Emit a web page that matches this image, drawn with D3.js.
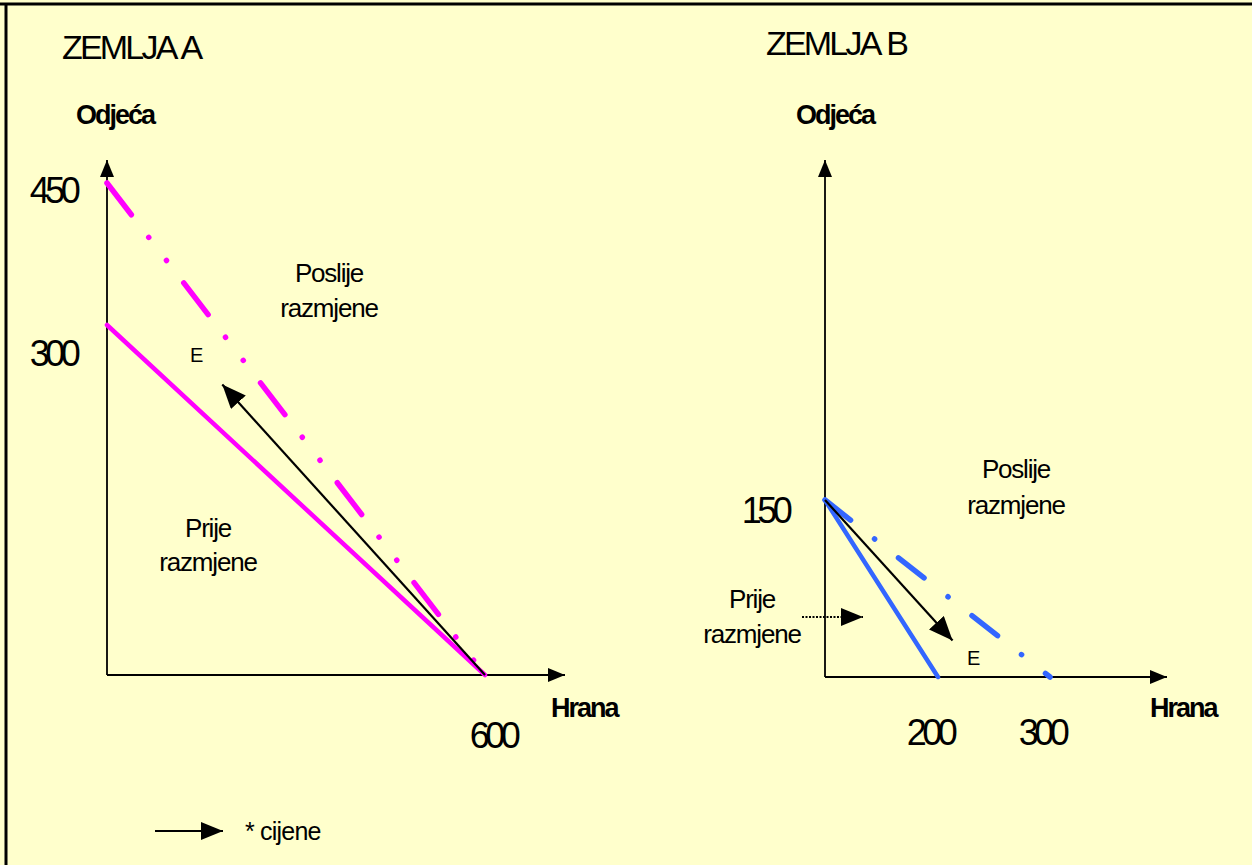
<!DOCTYPE html>
<html>
<head>
<meta charset="utf-8">
<script src="https://cdn.jsdelivr.net/npm/d3@7"></script>
<style>
 body { margin: 0; background: #fff; }
 svg { display: block; }
 text { font-family: "Liberation Sans", Arial, sans-serif; fill: #000; }
</style>
</head>
<body>
<svg id="chart"></svg>
<script>
// --- data ---
var titles = ["ZEMLJA A", "ZEMLJA B"];
var axisNames = ["Odjeća", "Hrana"];

// zemlja A
var aTicksX = [600], aTicksY = [300, 450];
var aBefore = [[0, 300], [600, 0]];
var aAfter = [[0, 450], [600, 0]];
var aPrice = [[600, 0], [183, 249]];

// zemlja B
var bTicksX = [200, 300], bTicksY = [150];
var bBefore = [[0, 150], [200, 0]];
var bAfter = [[0, 150], [300, 0]];
var bPrice = [[0, 150], [213, 31]];

var width = 1252,
 height = 865;

var svg = d3.select("#chart")
 .attr("width", width)
 .attr("height", height);

svg.append("rect")
 .attr("width", width)
 .attr("height", height)
 .attr("fill", "#ffffcc");

// frame (top + left only)
svg.append("line").attr("x1", 0).attr("x2", width).attr("y1", 4).attr("y2", 4)
 .attr("stroke", "#000").attr("stroke-width", 3);
svg.append("line").attr("x1", 6).attr("x2", 6).attr("y1", 3).attr("y2", height)
 .attr("stroke", "#000").attr("stroke-width", 3);

// arrow heads
var defs = svg.append("defs");
function head(id, len, w) {
 defs.append("marker")
  .attr("id", id)
  .attr("viewBox", "0 0 " + len + " " + w)
  .attr("refX", len)
  .attr("refY", w / 2)
  .attr("markerWidth", len)
  .attr("markerHeight", w)
  .attr("markerUnits", "userSpaceOnUse")
  .attr("orient", "auto")
  .append("path")
  .attr("d", "M0,0L" + len + "," + (w / 2) + "L0," + w + "Z")
  .attr("fill", "#000");
}
head("axisHead", 17, 14);
head("priceHead", 24, 20);
head("smallHead", 22, 18);

function txt(x, y, s, size, opt) {
 opt = opt || {};
 return svg.append("text")
  .attr("x", x)
  .attr("y", y)
  .attr("font-size", size)
  .attr("font-weight", opt.bold ? "bold" : null)
  .attr("letter-spacing", opt.ls || 0)
  .attr("word-spacing", opt.ws || 0)
  .attr("text-anchor", opt.anchor || "start")
  .text(s);
}

function arrow(x1, y1, x2, y2, marker, sw, dash) {
 return svg.append("line")
  .attr("x1", x1).attr("y1", y1)
  .attr("x2", x2).attr("y2", y2)
  .attr("stroke", "#000")
  .attr("stroke-width", sw)
  .attr("stroke-dasharray", dash || null)
  .attr("marker-end", "url(#" + marker + ")");
}

var line = d3.line();

// ===== ZEMLJA A =====
var xA = d3.scaleLinear().domain([0, 600]).range([107, 485]);
var yA = d3.scaleLinear().domain([0, 300, 450]).range([675, 325, 183]);
var yAlab = d3.scaleLinear().domain([300, 450]).range([366, 203]);

arrow(xA(0), yA(0), xA(0), 160, "axisHead", 1.8);
arrow(xA(0), yA(0), 565, yA(0), "axisHead", 1.8);

svg.append("path")
 .attr("d", line(aAfter.map(function(d) { return [xA(d[0]), yA(d[1])]; })))
 .attr("fill", "none")
 .attr("stroke", "#ff00ff")
 .attr("stroke-width", 5.5)
 .attr("stroke-linecap", "round")
 .attr("stroke-dasharray", "40,28.5,0.1,29,0.1,28.3");

svg.append("path")
 .attr("d", line(aBefore.map(function(d) { return [xA(d[0]), yA(d[1])]; })))
 .attr("fill", "none")
 .attr("stroke", "#ff00ff")
 .attr("stroke-width", 4.5)
 .attr("stroke-linecap", "round");

arrow(xA(aPrice[0][0]), yA(aPrice[0][1]), xA(aPrice[1][0]), yA(aPrice[1][1]), "priceHead", 2.2);

txt(62, 59, titles[0], 34, { ls: -2.8, ws: 2 });
txt(115, 124, axisNames[0], 27, { bold: true, ls: -2, anchor: "middle" });
txt(551, 717, axisNames[1], 27, { bold: true, ls: -2 });

aTicksY.forEach(function(v) {
 txt(53, yAlab(v), v, 36, { ls: -4.5, anchor: "middle" });
});
aTicksX.forEach(function(v) {
 txt(xA(v) + 8, 748, v, 36, { ls: -4.5, anchor: "middle" });
});

txt(329, 282, "Poslije", 26, { ls: -1.2, anchor: "middle" });
txt(329, 317, "razmjene", 26, { ls: -1.2, anchor: "middle" });
txt(208, 537, "Prije", 26, { ls: -1.2, anchor: "middle" });
txt(208, 571, "razmjene", 26, { ls: -1.2, anchor: "middle" });
txt(190, 362, "E", 20);

// ===== ZEMLJA B =====
var xB = d3.scaleLinear().domain([0, 200, 300]).range([825, 938, 1050]);
var yB = d3.scaleLinear().domain([0, 150]).range([677, 500]);

arrow(xB(0), yB(0), xB(0), 160, "axisHead", 1.8);
arrow(xB(0), yB(0), 1167, yB(0), "axisHead", 1.8);

svg.append("path")
 .attr("d", line(bAfter.map(function(d) { return [xB(d[0]), yB(d[1])]; })))
 .attr("fill", "none")
 .attr("stroke", "#3366ff")
 .attr("stroke-width", 5.5)
 .attr("stroke-linecap", "round")
 .attr("stroke-dasharray", "32.5,30.5,0.1,30.4");

svg.append("path")
 .attr("d", line(bBefore.map(function(d) { return [xB(d[0]), yB(d[1])]; })))
 .attr("fill", "none")
 .attr("stroke", "#3366ff")
 .attr("stroke-width", 4.5)
 .attr("stroke-linecap", "round");

arrow(xB(bPrice[0][0]), yB(bPrice[0][1]), xB(bPrice[1][0]), yB(bPrice[1][1]), "priceHead", 2.2);

txt(766, 55, titles[1], 34, { ls: -2.8, ws: 2 });
txt(835, 124, axisNames[0], 27, { bold: true, ls: -2, anchor: "middle" });
txt(1150, 717, axisNames[1], 27, { bold: true, ls: -2 });

bTicksY.forEach(function(v) {
 txt(765, yB(v) + 23, v, 36, { ls: -4.5, anchor: "middle" });
});
bTicksX.forEach(function(v) {
 txt(xB(v) - 8, 745, v, 36, { ls: -4.5, anchor: "middle" });
});

txt(1016, 478, "Poslije", 26, { ls: -1.2, anchor: "middle" });
txt(1016, 514, "razmjene", 26, { ls: -1.2, anchor: "middle" });
txt(752, 608, "Prije", 26, { ls: -1.2, anchor: "middle" });
txt(752, 643, "razmjene", 26, { ls: -1.2, anchor: "middle" });
txt(967, 665, "E", 20);

// dotted pointer to the "prije" line
arrow(802, 617, 863, 617, "smallHead", 2, "2,1.5");

// legend
arrow(155, 831, 223, 831, "smallHead", 2);
txt(245, 840, "* cijene", 25, { ls: -0.8 });
</script>
</body>
</html>
